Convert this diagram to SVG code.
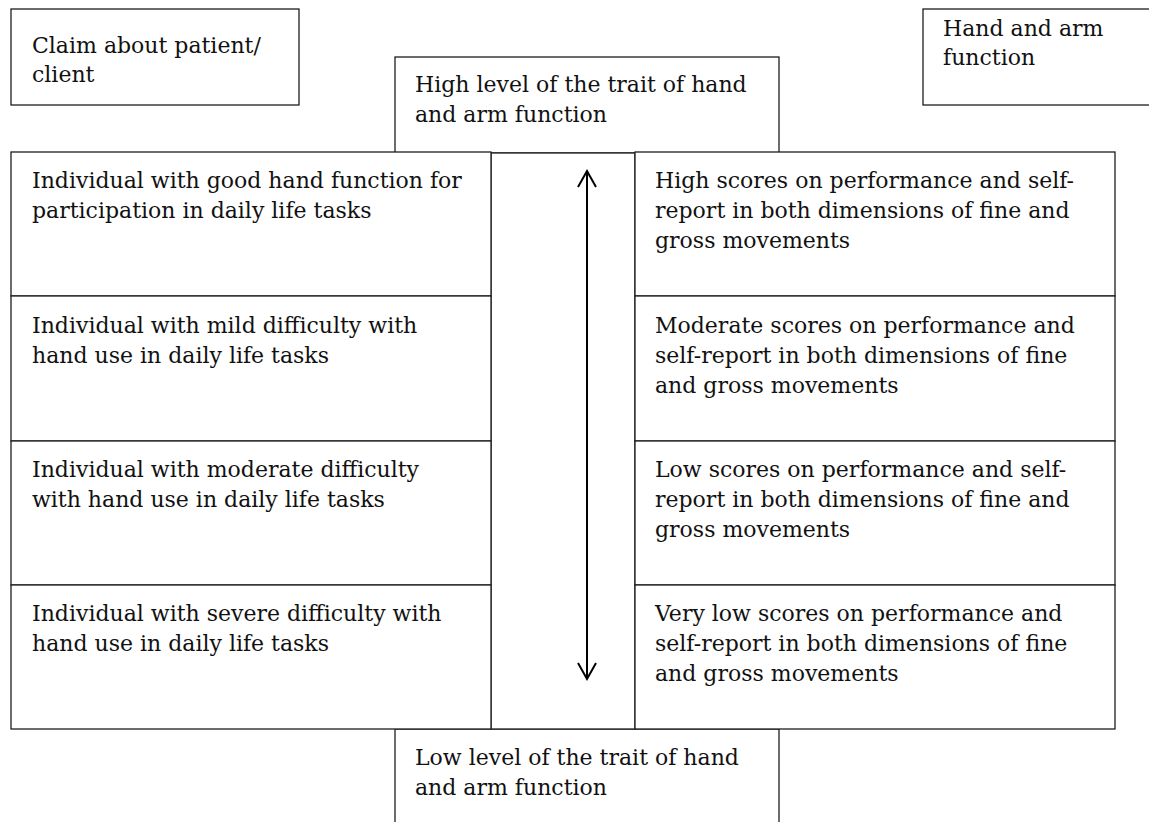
<svg xmlns="http://www.w3.org/2000/svg" width="1149" height="822" viewBox="0 0 1149 822">
  <style>
    .box { fill: #ffffff; stroke: #1e1e1e; stroke-width: 1.3; }
    .lbl { font-family: "DejaVu Serif", "Liberation Serif", serif; font-size: 22px; fill: #111111; }
    .axis { stroke: #000000; stroke-width: 2; fill: none; }
  </style>
  <rect width="1149" height="822" fill="#ffffff"/>

  <g id="claim">
    <rect class="box" x="11" y="9" width="288" height="96"/>
    <text class="lbl" x="32" y="53">Claim about patient/</text>
    <text class="lbl" x="32" y="82">client</text>
  </g>

  <g id="construct">
    <rect class="box" x="923" y="9" width="230" height="96"/>
    <text class="lbl" x="943" y="36">Hand and arm</text>
    <text class="lbl" x="943" y="65">function</text>
  </g>

  <g id="high-level">
    <rect class="box" x="395" y="57" width="384" height="96"/>
    <text class="lbl" x="415" y="92">High level of the trait of hand</text>
    <text class="lbl" x="415" y="122">and arm function</text>
  </g>

  <g id="low-level">
    <rect class="box" x="395" y="729" width="384" height="100"/>
    <text class="lbl" x="415" y="765">Low level of the trait of hand</text>
    <text class="lbl" x="415" y="795">and arm function</text>
  </g>

  <g id="axis-column">
    <rect class="box" x="491" y="153" width="144" height="576"/>
  </g>

  <g id="claim-good">
    <rect class="box" x="11" y="152" width="480" height="144"/>
    <text class="lbl" x="32" y="188">Individual with good hand function for</text>
    <text class="lbl" x="32" y="218">participation in daily life tasks</text>
  </g>
  <g id="claim-mild">
    <rect class="box" x="11" y="296" width="480" height="145"/>
    <text class="lbl" x="32" y="333">Individual with mild difficulty with</text>
    <text class="lbl" x="32" y="363">hand use in daily life tasks</text>
  </g>
  <g id="claim-moderate">
    <rect class="box" x="11" y="441" width="480" height="144"/>
    <text class="lbl" x="32" y="477">Individual with moderate difficulty</text>
    <text class="lbl" x="32" y="507">with hand use in daily life tasks</text>
  </g>
  <g id="claim-severe">
    <rect class="box" x="11" y="585" width="480" height="144"/>
    <text class="lbl" x="32" y="621">Individual with severe difficulty with</text>
    <text class="lbl" x="32" y="651">hand use in daily life tasks</text>
  </g>

  <g id="score-high">
    <rect class="box" x="635" y="152" width="480" height="144"/>
    <text class="lbl" x="655" y="188">High scores on performance and self-</text>
    <text class="lbl" x="655" y="218">report in both dimensions of fine and</text>
    <text class="lbl" x="655" y="248">gross movements</text>
  </g>
  <g id="score-moderate">
    <rect class="box" x="635" y="296" width="480" height="145"/>
    <text class="lbl" x="655" y="333">Moderate scores on performance and</text>
    <text class="lbl" x="655" y="363">self-report in both dimensions of fine</text>
    <text class="lbl" x="655" y="393">and gross movements</text>
  </g>
  <g id="score-low">
    <rect class="box" x="635" y="441" width="480" height="144"/>
    <text class="lbl" x="655" y="477">Low scores on performance and self-</text>
    <text class="lbl" x="655" y="507">report in both dimensions of fine and</text>
    <text class="lbl" x="655" y="537">gross movements</text>
  </g>
  <g id="score-very-low">
    <rect class="box" x="635" y="585" width="480" height="144"/>
    <text class="lbl" x="655" y="621">Very low scores on performance and</text>
    <text class="lbl" x="655" y="651">self-report in both dimensions of fine</text>
    <text class="lbl" x="655" y="681">and gross movements</text>
  </g>

  <g id="connectors">
    <line class="axis" x1="587" y1="172" x2="587" y2="678"/>
    <polyline class="axis" points="578,187 587,171 596,187"/>
    <polyline class="axis" points="578,663 587,679 596,663"/>
  </g>
</svg>
